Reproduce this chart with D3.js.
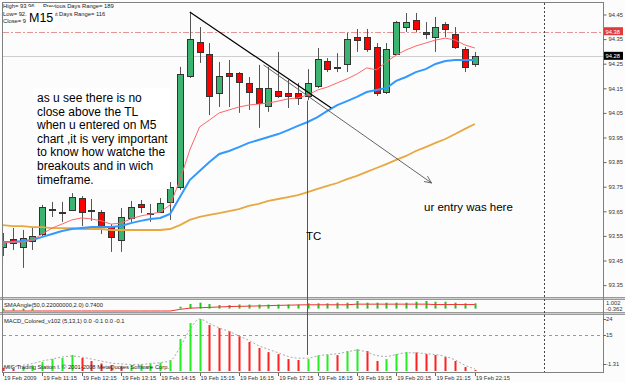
<!DOCTYPE html>
<html>
<head>
<meta charset="utf-8">
<script src="https://cdn.jsdelivr.net/npm/d3@7"></script>
<style>
  body { margin: 0; background: #fff; }
  svg { display: block; }
  text { font-family: "Liberation Sans", Arial, sans-serif; }
</style>
</head>
<body>
<div id="chart"></div>
<script>
// USDJPY M15, 19 Feb 2009 10:15 .. 22:15 (one entry per bar)
const timeLabels = ["19 Feb 2009", "19 Feb 11:15", "19 Feb 12:15", "19 Feb 13:15", "19 Feb 14:15",
    "19 Feb 15:15", "19 Feb 16:15", "19 Feb 17:15", "19 Feb 18:15", "19 Feb 19:15",
    "19 Feb 20:15", "19 Feb 21:15", "19 Feb 22:15"];

const opens = [93.505, 93.537, 93.505, 93.529, 93.558, 93.659, 93.647, 93.655, 93.704, 93.653,
    93.647, 93.586, 93.533, 93.623, 93.680, 93.643, 93.647, 93.688, 93.749, 94.200,
    94.338, 94.289, 94.131, 94.212, 94.212, 94.172, 94.151, 94.078, 94.139, 94.131,
    94.131, 94.119, 94.159, 94.261, 94.237, 94.249, 94.358, 94.358, 94.318, 94.135,
    94.289, 94.399, 94.428, 94.379, 94.358, 94.411, 94.371, 94.310, 94.249];
const highs = [93.562, 93.582, 93.574, 93.582, 93.676, 93.688, 93.688, 93.724, 93.712, 93.700,
    93.655, 93.598, 93.663, 93.692, 93.696, 93.680, 93.704, 93.769, 94.237, 94.460,
    94.399, 94.334, 94.257, 94.265, 94.216, 94.196, 94.245, 94.237, 94.298, 94.184,
    94.172, 94.228, 94.314, 94.273, 94.293, 94.375, 94.391, 94.391, 94.334, 94.334,
    94.424, 94.456, 94.456, 94.419, 94.440, 94.419, 94.399, 94.318, 94.298];
const lows = [93.468, 93.493, 93.420, 93.493, 93.546, 93.627, 93.607, 93.651, 93.590, 93.611,
    93.558, 93.485, 93.485, 93.607, 93.643, 93.607, 93.643, 93.615, 93.737, 94.192,
    94.253, 94.041, 94.074, 94.074, 94.050, 94.062, 93.989, 94.054, 94.111, 94.070,
    94.082, 94.102, 94.151, 94.216, 94.216, 94.216, 94.298, 94.298, 94.119, 94.127,
    94.285, 94.379, 94.379, 94.350, 94.298, 94.358, 94.310, 94.216, 94.237];
const closes = [93.525, 93.521, 93.541, 93.550, 93.667, 93.655, 93.645, 93.708, 93.647, 93.655,
    93.586, 93.546, 93.627, 93.667, 93.667, 93.641, 93.684, 93.749, 94.208, 94.350,
    94.298, 94.119, 94.200, 94.200, 94.176, 94.135, 94.090, 94.151, 94.119, 94.119,
    94.111, 94.172, 94.269, 94.228, 94.235, 94.350, 94.346, 94.310, 94.131, 94.310,
    94.419, 94.419, 94.391, 94.371, 94.399, 94.391, 94.318, 94.237, 94.280];

// moving averages
const maFast = [93.521, 93.525, 93.525, 93.533, 93.558, 93.582, 93.598, 93.615, 93.623, 93.619,
    93.611, 93.598, 93.602, 93.619, 93.631, 93.639, 93.647, 93.676, 93.777, 93.899,
    93.993, 94.021, 94.050, 94.062, 94.074, 94.082, 94.086, 94.090, 94.098, 94.107,
    94.111, 94.123, 94.143, 94.155, 94.172, 94.188, 94.208, 94.233, 94.225, 94.257,
    94.285, 94.306, 94.322, 94.334, 94.346, 94.354, 94.346, 94.326, 94.314];
const maMid = [93.525, 93.525, 93.529, 93.533, 93.546, 93.558, 93.570, 93.578, 93.582, 93.586,
    93.586, 93.586, 93.590, 93.602, 93.611, 93.619, 93.623, 93.639, 93.708, 93.777,
    93.814, 93.850, 93.883, 93.895, 93.911, 93.928, 93.940, 93.952, 93.964, 93.980,
    93.997, 94.013, 94.033, 94.058, 94.082, 94.098, 94.115, 94.135, 94.143, 94.151,
    94.180, 94.196, 94.216, 94.228, 94.249, 94.261, 94.265, 94.265, 94.265];
const maSlow = [93.594, 93.590, 93.590, 93.586, 93.586, 93.582, 93.582, 93.582, 93.578, 93.578,
    93.578, 93.574, 93.574, 93.574, 93.574, 93.574, 93.574, 93.578, 93.594, 93.615,
    93.627, 93.635, 93.643, 93.651, 93.659, 93.672, 93.680, 93.692, 93.700, 93.708,
    93.716, 93.728, 93.741, 93.753, 93.765, 93.781, 93.794, 93.810, 93.826, 93.842,
    93.859, 93.875, 93.895, 93.911, 93.928, 93.944, 93.964, 93.985, 94.005];

const priceTicks = [94.45, 94.35, 94.25, 94.15, 94.05, 93.95, 93.85, 93.75, 93.65, 93.55, 93.45, 93.35];
const bidPrice = 94.28;
const levelPrice = 94.38;

// SMAAngle(50,0.22,2.0) sub window
const smaAngle = [-0.25, -0.25, -0.25, -0.25, 0, 0, 0, 0, 0, 0,
    0, 0, 0, 0, 0, 0, 0, 0, 0.23, 0.57,
    0.73, 0.57, 0.44, 0.44, 0.5, 0.5, 0.5, 0.5, 0.5, 0.5,
    0.5, 0.65, 0.65, 0.65, 0.73, 0.73, 0.94, 0.73, 0.73, 0.73,
    0.73, 0.73, 0.85, 0.94, 0.85, 0.85, 0.73, 0.65, 0.65];
const smaSignal = [-0.3, -0.3, -0.3, -0.3, -0.3, -0.3, -0.3, -0.3, -0.3, -0.3,
    -0.3, -0.3, -0.3, -0.3, -0.3, -0.3, -0.3, -0.3, -0.1, 0.05,
    0.1, 0.15, 0.2, 0.25, 0.28, 0.3, 0.33, 0.36, 0.4, 0.42,
    0.45, 0.47, 0.47, 0.47, 0.47, 0.47, 0.55, 0.55, 0.55, 0.55,
    0.55, 0.55, 0.55, 0.55, 0.5, 0.5, 0.5, 0.5, 0.5];
const smaTicks = [1.002, -0.362];

// MACD_Colored_v102 (5,13,1) sub window
const macdHist = [-3.5, -4.0, -3.0, -2.0, -0.2, 1.5, 2.1, 3.8, 2.1, 0.4,
    -1.0, -2.0, -2.6, -2.0, -1.5, -1.0, -0.5, 0.9, 12.8, 21.7,
    24.0, 20.6, 18.9, 17.2, 14.4, 11.1, 7.7, 5.4, 4.3, 1.5,
    0.96, 1.5, 3.6, 3.9, 3.7, 6.0, 7.1, 6.0, 0.4, 1.5,
    4.3, 5.4, 5.2, 4.3, 3.8, 2.6, 0.4, -3.0, -4.6];
const macdSignal = [-3.0, -2.8, -2.0, -1.0, 0.4, 1.5, 2.6, 3.2, 2.6, 1.5,
    0.4, -0.7, -1.2, -1.5, -1.5, -1.0, -0.5, 0.5, 8.0, 18.0,
    24.0, 21.5, 19.0, 17.0, 14.5, 12.0, 9.0, 7.0, 5.0, 3.0,
    2.0, 2.0, 3.2, 4.0, 4.5, 5.5, 6.5, 5.5, 3.5, 3.0,
    4.0, 5.0, 5.0, 4.5, 4.0, 3.0, 1.0, -2.0, -4.0];
const macdTicks = [24, 15, -1.31];
const macdLevel = 15;

// hand drawn objects: [bar, price]
const trendLine = [[19, 94.46], [33.4, 94.07]];
const arrowLine = [[26.5, 94.245], [43.6, 93.765]];
const tcBar = 31;
const separatorBar = 55;

const notes = ["as u see there is no", "close above the TL", "when u entered on M5",
    "chart ,it is very important", "to know how watche the", "breakouts and in wich", "timeframe."];

const W = 625, H = 382;
const svg = d3.select("#chart").append("svg").attr("width", W).attr("height", H);
svg.append("rect").attr("width", W).attr("height", H).attr("fill", "#fcfcfc");

// scales
const x = d3.scaleLinear().domain([0, 61]).range([3, 602.6]);
const y = d3.scaleLinear().domain([93.35, 94.45]).range([285.1, 14.5]);
const ySma = d3.scaleLinear().domain([-0.362, 1.002]).range([311.5, 300.5]);
const yMacd = d3.scaleLinear().domain([-5.2, 24]).range([371, 319]);
const px = i => Math.round(x(i)) + 0.5;

const defs = svg.append("defs");
defs.append("clipPath").attr("id", "clipMain").append("rect").attr("x", 3).attr("y", 3).attr("width", 600).attr("height", 294);
defs.append("marker").attr("id", "arrow").attr("viewBox", "0 0 10 10").attr("refX", 9).attr("refY", 5)
    .attr("markerWidth", 9).attr("markerHeight", 9).attr("orient", "auto")
    .append("path").attr("d", "M0,1 L9,5 L0,9").attr("fill", "none").attr("stroke", "#555").attr("stroke-width", 1);

// window separators
svg.append("rect").attr("x", 0).attr("y", 297).attr("width", W).attr("height", 3).attr("fill", "#9a9a9a");
svg.append("rect").attr("x", 0).attr("y", 312).attr("width", W).attr("height", 3).attr("fill", "#9a9a9a");
svg.append("rect").attr("x", 0).attr("y", 298).attr("width", W).attr("height", 1).attr("fill", "#d0d0d0");
svg.append("rect").attr("x", 0).attr("y", 313).attr("width", W).attr("height", 1).attr("fill", "#d0d0d0");

// frame
svg.append("line").attr("x1", 2.5).attr("x2", 2.5).attr("y1", 2).attr("y2", 372).attr("stroke", "#808080");
svg.append("line").attr("x1", 2).attr("x2", 603).attr("y1", 2.5).attr("y2", 2.5).attr("stroke", "#808080");
svg.append("line").attr("x1", 603.5).attr("x2", 603.5).attr("y1", 2).attr("y2", 372).attr("stroke", "#808080");
svg.append("line").attr("x1", 2).attr("x2", 604).attr("y1", 372.5).attr("y2", 372.5).attr("stroke", "#808080");

const main = svg.append("g").attr("clip-path", "url(#clipMain)");

// level lines
main.append("line").attr("x1", 3).attr("x2", 603).attr("y1", Math.round(y(levelPrice)) + 0.5).attr("y2", Math.round(y(levelPrice)) + 0.5)
    .attr("stroke", "#e59595").attr("stroke-dasharray", "6,2,2,2");
main.append("line").attr("x1", 3).attr("x2", 603).attr("y1", Math.round(y(bidPrice)) + 0.5).attr("y2", Math.round(y(bidPrice)) + 0.5)
    .attr("stroke", "#cfcfcf");

// candles
const bars = opens.map((o, i) => ({ i, o, h: highs[i], l: lows[i], c: closes[i] }));
main.selectAll("line.wick").data(bars).join("line").attr("class", "wick")
    .attr("x1", d => px(d.i)).attr("x2", d => px(d.i))
    .attr("y1", d => y(d.h)).attr("y2", d => y(d.l))
    .attr("stroke", "#555");
main.selectAll("rect.body").data(bars).join("rect").attr("class", "body")
    .attr("x", d => Math.round(x(d.i)) - 2.5).attr("width", 6)
    .attr("y", d => Math.round(y(Math.max(d.o, d.c))) + 0.5)
    .attr("height", d => Math.max(1, Math.round(Math.abs(y(d.o) - y(d.c)))))
    .attr("fill", d => d.c >= d.o ? "#3cb371" : "#ff0000")
    .attr("stroke", "#333");

// moving averages
const idx = d3.range(opens.length);
const maLine = arr => d3.line().x(i => x(i)).y(i => y(arr[i]))(idx);
main.append("path").attr("d", maLine(maSlow)).attr("fill", "none").attr("stroke", "#e8a840").attr("stroke-width", 1.8);
main.append("path").attr("d", maLine(maMid)).attr("fill", "none").attr("stroke", "#3399ff").attr("stroke-width", 2);
main.append("path").attr("d", maLine(maFast)).attr("fill", "none").attr("stroke", "#ff6666").attr("stroke-width", 1);

// trend line + arrow
main.append("line").attr("x1", x(trendLine[0][0])).attr("y1", y(trendLine[0][1]))
    .attr("x2", x(trendLine[1][0])).attr("y2", y(trendLine[1][1])).attr("stroke", "#000").attr("stroke-width", 1.2);
main.append("line").attr("x1", x(arrowLine[0][0])).attr("y1", y(arrowLine[0][1]))
    .attr("x2", x(arrowLine[1][0])).attr("y2", y(arrowLine[1][1])).attr("stroke", "#555").attr("stroke-width", 0.9)
    .attr("marker-end", "url(#arrow)");

// vertical separator and TC line
svg.append("line").attr("x1", px(separatorBar)).attr("x2", px(separatorBar)).attr("y1", 3).attr("y2", 372)
    .attr("stroke", "#444").attr("stroke-dasharray", "2,2");
svg.append("line").attr("x1", px(tcBar) - 1).attr("x2", px(tcBar) - 1).attr("y1", y(94.10)).attr("y2", yMacd(3.8))
    .attr("stroke", "#555");

// right price axis
const axisR = svg.append("g").attr("transform", "translate(603.5,0)")
    .call(d3.axisRight(y).tickValues(priceTicks).tickFormat(d3.format(".2f")).tickSize(3).tickPadding(2));
axisR.select(".domain").remove();
axisR.selectAll("line").attr("stroke", "#666");
axisR.selectAll("text").attr("font-size", 5.8).attr("fill", "#333").attr("font-family", "Liberation Sans, Arial");

// price tags
[[levelPrice, "#e03a3a"], [bidPrice, "#000"]].forEach(([p, col]) => {
    svg.append("rect").attr("x", 604).attr("y", y(p) - 4.5).attr("width", 19).attr("height", 8).attr("fill", col);
    svg.append("text").attr("x", 605.5).attr("y", y(p) + 2).attr("font-size", 5.8).attr("fill", "#fff").text(p.toFixed(2));
});

// header info
const hdr = svg.append("g").attr("font-size", 5.8).attr("fill", "#222");
hdr.append("text").attr("x", 3).attr("y", 8).text("High= 93.96");
hdr.append("text").attr("x", 43).attr("y", 8).text("Previous Days Range= 189");
hdr.append("text").attr("x", 3).attr("y", 15.5).text("Low= 92.");
hdr.append("text").attr("x", 53).attr("y", 15.5).text("st Days Range= 116");
hdr.append("text").attr("x", 3).attr("y", 23).text("Close= 9");
svg.append("rect").attr("x", 27).attr("y", 7).attr("width", 28).attr("height", 21).attr("fill", "#fff");
svg.append("text").attr("x", 29).attr("y", 22).attr("font-size", 12.5).attr("fill", "#000").text("M15");

// comment box
svg.append("rect").attr("x", 33).attr("y", 88).attr("width", 137).attr("height", 101).attr("fill", "#fff");
svg.append("g").selectAll("text").data(notes).join("text")
    .attr("x", 37).attr("y", (d, i) => 102 + i * 13.6)
    .attr("font-size", 12).attr("fill", "#000").text(d => d);
svg.append("text").attr("x", 306).attr("y", 240).attr("font-size", 11.5).attr("fill", "#000").text("TC");
svg.append("text").attr("x", 424).attr("y", 211).attr("font-size", 11.5).attr("fill", "#000").text("ur entry was here");

// SMAAngle window
const smaG = svg.append("g");
smaG.selectAll("line.sb").data(idx.filter(i => smaAngle[i] !== 0)).join("line").attr("class", "sb")
    .attr("x1", i => px(i)).attr("x2", i => px(i))
    .attr("y1", ySma(0)).attr("y2", i => ySma(smaAngle[i]))
    .attr("stroke", "#1fc41f").attr("stroke-width", 2);
smaG.append("path").attr("d", d3.line().x(i => x(i)).y(i => ySma(smaSignal[i]))(idx))
    .attr("fill", "none").attr("stroke", "#ee3333").attr("stroke-width", 1);
smaG.append("text").attr("x", 4).attr("y", 307).attr("font-size", 5.8).attr("fill", "#222")
    .text("SMAAngle(50,0.22000000,2.0) 0.7400");
smaG.selectAll("text.tk").data(smaTicks).join("text").attr("class", "tk")
    .attr("x", 606).attr("y", (d, i) => i === 0 ? 305 : 311).attr("font-size", 5.8).attr("fill", "#333")
    .text(d => d.toFixed(3));

// MACD window
const macdG = svg.append("g");
macdG.append("line").attr("x1", 3).attr("x2", 603).attr("y1", Math.round(yMacd(macdLevel)) + 0.5).attr("y2", Math.round(yMacd(macdLevel)) + 0.5)
    .attr("stroke", "#999").attr("stroke-dasharray", "3,3");
macdG.selectAll("line.mb").data(idx).join("line").attr("class", "mb")
    .attr("x1", i => px(i)).attr("x2", i => px(i))
    .attr("y1", yMacd.range()[0]).attr("y2", i => yMacd(macdHist[i]))
    .attr("stroke", i => i > 0 && macdHist[i] >= macdHist[i - 1] ? "#22ee22" : "#ff2020")
    .attr("stroke-width", 2);
macdG.append("path").attr("d", d3.line().curve(d3.curveMonotoneX).x(i => x(i)).y(i => yMacd(macdSignal[i]))(idx))
    .attr("fill", "none").attr("stroke", "#aaa").attr("stroke-dasharray", "2,2");
macdG.append("text").attr("x", 4).attr("y", 323).attr("font-size", 5.8).attr("fill", "#222")
    .text("MACD_Colored_v102 (5,13,1) 0.0 -0.1 0.0 -0.1");
macdG.append("text").attr("x", 4).attr("y", 369).attr("font-size", 5.8).attr("fill", "#222")
    .text("MIG Trading Station I. © 2001-2008 MetaQuotes Software Corp.");
macdG.selectAll("text.tk").data(macdTicks).join("text").attr("class", "tk")
    .attr("x", 606).attr("y", d => Math.min(yMacd(d) + 2, 369)).attr("font-size", 5.8).attr("fill", "#333")
    .text(d => d);
macdG.selectAll("line.tk").data(macdTicks).join("line").attr("class", "tk")
    .attr("x1", 603).attr("x2", 606).attr("y1", d => Math.round(yMacd(d)) + 0.5).attr("y2", d => Math.round(yMacd(d)) + 0.5)
    .attr("stroke", "#666");

// time axis
const labelBars = timeLabels.map((t, k) => k * 4);
const tAxis = svg.append("g");
tAxis.selectAll("line").data(labelBars).join("line")
    .attr("x1", i => px(i)).attr("x2", i => px(i)).attr("y1", 373).attr("y2", 376).attr("stroke", "#666");
tAxis.selectAll("text").data(labelBars).join("text")
    .attr("x", i => x(i) + 1).attr("y", 380).attr("font-size", 5.8).attr("fill", "#333")
    .text((i, k) => timeLabels[k]);
</script>
</body>
</html>
